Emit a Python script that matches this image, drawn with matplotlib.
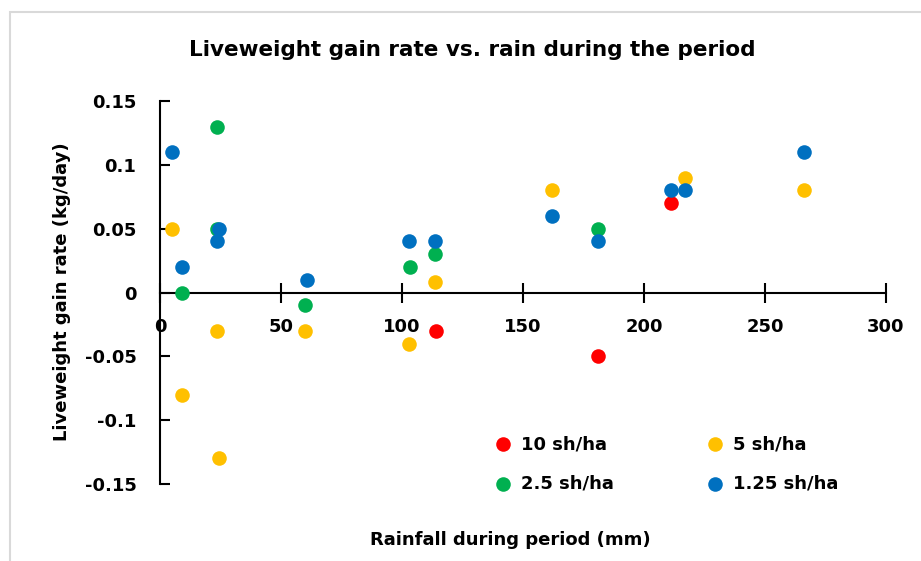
import matplotlib
matplotlib.use("Agg")
import matplotlib.pyplot as plt
from matplotlib.patches import Rectangle

plt.rcParams['font.family'] = ['DejaVu Sans']

# Data
x_10 = [114, 181, 211]
y_10 = [-0.03, -0.05, 0.07]

x_5 = [5, 23.5, 9, 24.5, 60, 103, 113.6, 162, 217, 266]
y_5 = [0.05, -0.03, -0.08, -0.13, -0.03, -0.04, 0.008, 0.08, 0.09, 0.08]

x_25 = [23.5, 23.5, 9, 60, 103.5, 113.6, 181]
y_25 = [0.13, 0.05, 0.0, -0.01, 0.02, 0.03, 0.05]

x_125 = [5, 9, 23.5, 24.5, 60.7, 103, 113.6, 162, 181, 211, 217, 266]
y_125 = [0.11, 0.02, 0.04, 0.05, 0.01, 0.04, 0.04, 0.06, 0.04, 0.08, 0.08, 0.11]

series_labels = ["10 sh/ha", "5 sh/ha", "2.5 sh/ha", "1.25 sh/ha"]
colors = ["#FF0000", "#FFC000", "#00B050", "#0070C0"]
xticks = [0, 50, 100, 150, 200, 250, 300]
yticks = [-0.15, -0.1, -0.05, 0, 0.05, 0.1, 0.15]
ytick_labels = ["-0.15", "-0.1", "-0.05", "0", "0.05", "0.1", "0.15"]

W, H = 921, 561
fig = plt.figure(figsize=(W / 100, H / 100), dpi=100)
fig.patches.append(Rectangle((10 / W, -0.2), 1.2, 1.2 - 12 / H, transform=fig.transFigure,
                             fill=False, edgecolor="#D9D9D9", linewidth=1.5))

ax = fig.add_axes([160 / W, 1 - 484 / H, (886 - 160) / W, (484 - 101) / H])

handles = []
for xs, ys, c, lab in zip([x_10, x_5, x_25, x_125], [y_10, y_5, y_25, y_125], colors, series_labels):
    h = ax.scatter(xs, ys, s=110, color=c, label=lab, linewidths=0, zorder=3, clip_on=False)
    handles.append(h)

ax.set_xlim(0, 300)
ax.set_ylim(-0.15, 0.15)
ax.spines['top'].set_visible(False)
ax.spines['right'].set_visible(False)
ax.spines['bottom'].set_position(('data', 0))
for sp in ['left', 'bottom']:
    ax.spines[sp].set_linewidth(1.5)
    ax.spines[sp].set_color('black')

ax.set_xticks(xticks)
ax.set_xticklabels([str(v) for v in xticks])
ax.set_yticks(yticks)
ax.set_yticklabels(ytick_labels)
ax.tick_params(axis='x', direction='inout', length=14, width=1.5, pad=11, labelsize=13)
ax.tick_params(axis='y', direction='in', length=7, width=1.5, pad=17, labelsize=13)
for lbl in ax.get_xticklabels() + ax.get_yticklabels():
    lbl.set_fontweight('bold')

fig.text(472 / W, 1 - 50 / H, "Liveweight gain rate vs. rain during the period",
         ha='center', va='center', fontsize=15.5, fontweight='bold')
fig.text(62 / W, 1 - 292 / H, "Liveweight gain rate (kg/day)", rotation=90,
         ha='center', va='center', fontsize=13, fontweight='bold')
fig.text(510 / W, 1 - 540 / H, "Rainfall during period (mm)",
         ha='center', va='center', fontsize=13, fontweight='bold')

order = [0, 2, 1, 3]
leg = ax.legend([handles[i] for i in order], [series_labels[i] for i in order],
                ncol=2, loc='center', bbox_to_anchor=(662 / W, 1 - 464 / H),
                bbox_transform=fig.transFigure, frameon=False,
                prop={'weight': 'bold', 'size': 13}, handletextpad=0.0,
                columnspacing=4.6, labelspacing=1.2, markerscale=1.0)

fig.savefig("out.png", dpi=100)
